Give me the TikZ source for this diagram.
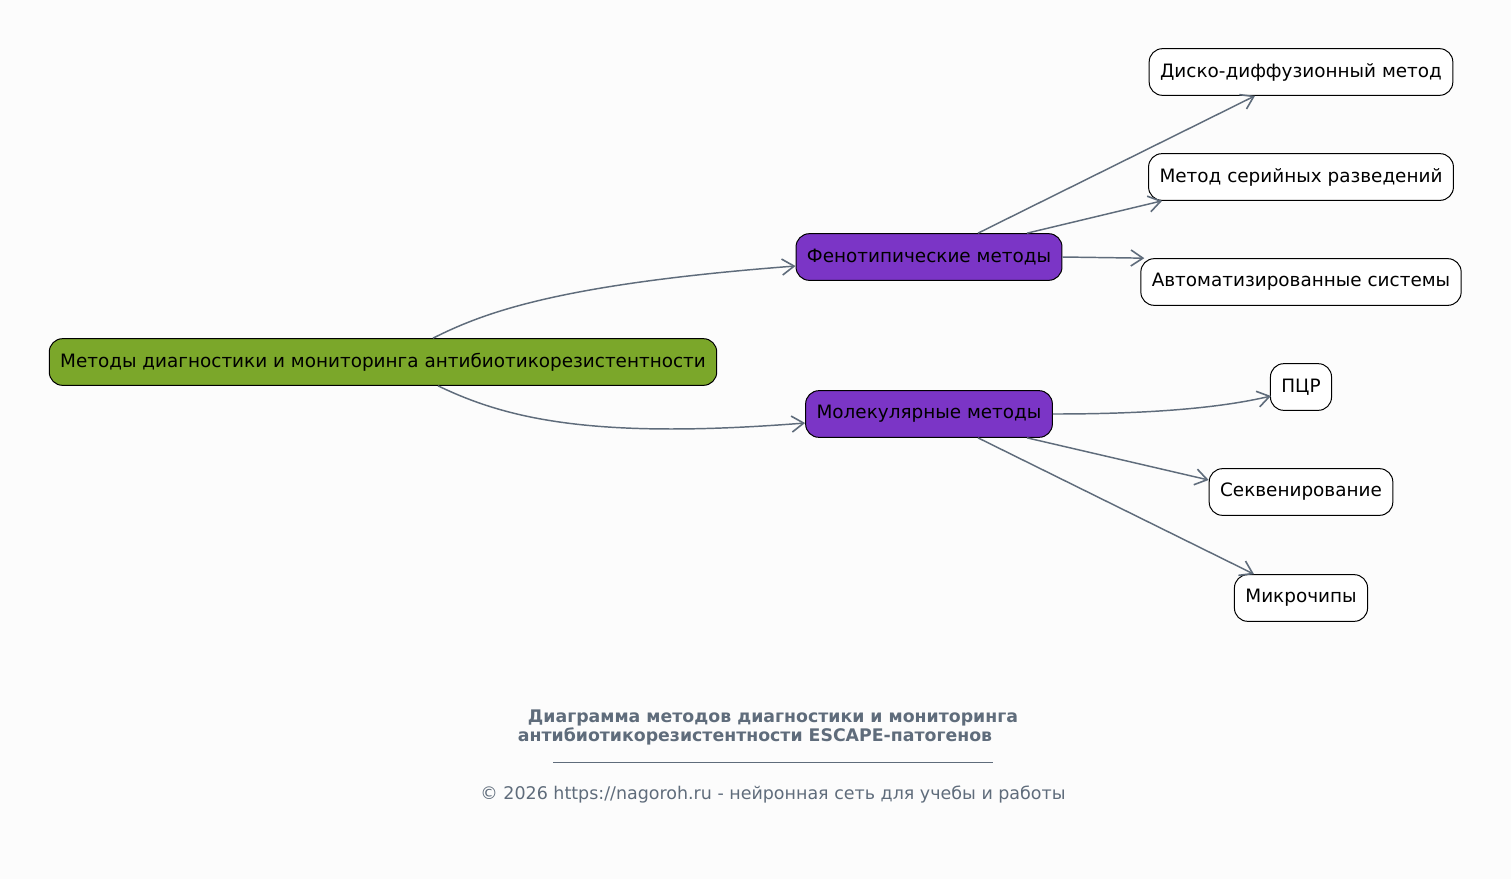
\documentclass[tikz,border=0pt]{standalone}
\usepackage{fontspec}
\setmainfont{DejaVu Sans}
\usepackage{xcolor}
\usepackage{tikz}
\usetikzlibrary{arrows.meta,calc}
\definecolor{rootgreen}{HTML}{7BA72A}
\definecolor{grouppurple}{HTML}{7B35C6}
\definecolor{edgegray}{HTML}{5F6C7B}
\definecolor{bggray}{HTML}{FCFCFC}
\tikzset{
    rootbox/.style = {rectangle, rounded corners=10pt, minimum height=35pt, inner xsep=8.2pt, line width=0.75pt, text centered, draw=black, fill=rootgreen, font=\fontsize{13.8}{16}\selectfont},
    groupbox/.style = {rectangle, rounded corners=10pt, minimum height=35pt, inner xsep=8.2pt, line width=0.75pt, text centered, draw=black, fill=grouppurple, font=\fontsize{13.8}{16}\selectfont},
    leafbox/.style = {rectangle, rounded corners=10pt, minimum height=35pt, inner xsep=8.2pt, line width=0.75pt, text centered, draw=black, fill=white, font=\fontsize{13.8}{16}\selectfont},
    arrow/.style = {edgegray, line width=1.1pt, -{Straight Barb[length=9pt, width=12pt, line width=1.2pt]}},
    caption/.style = {text=edgegray, font=\fontsize{13}{15}\selectfont\bfseries},
    footer/.style = {text=edgegray, font=\fontsize{13.1}{15}\selectfont}
}

\begin{document}
\begin{tikzpicture}[x=0.75pt, y=-0.75pt]
\fill [bggray] (0,0) rectangle (1511,879);
\useasboundingbox (0,0) rectangle (1511,879);

\node (root) [rootbox] at (383,362) {Методы диагностики и мониторинга антибиотикорезистентности};
\node (phen) [groupbox] at (929,257) {Фенотипические методы};
\node (mol) [groupbox] at (929,414) {Молекулярные методы};
\node (disco) [leafbox] at (1301,72) {Диско-диффузионный метод};
\node (serial) [leafbox] at (1301,177) {Метод серийных разведений};
\node (auto) [leafbox] at (1301,282) {Автоматизированные системы};
\node (pcr) [leafbox] at (1301,387) {ПЦР};
\node (seq) [leafbox] at (1301,492) {Секвенирование};
\node (micro) [leafbox] at (1301,598) {Микрочипы};

\node (title1) [caption] at (773,718) {Диаграмма методов диагностики и мониторинга};
\node (title2) [caption] at (755,736) {антибиотикорезистентности ESCAPE-патогенов};
\node (copy) [footer] at (773,795) {© 2026 https://nagoroh.ru - нейронная сеть для учебы и работы};
\draw [edgegray, line width=0.6pt] (553,762) -- (993,762);

\draw [arrow] ($(root.north)+(50,0)$) .. controls (485,312) and (560,284) .. ($(phen.west)+(0,9)$);
\draw [arrow] ($(root.south)+(55,0)$) .. controls (505,418) and (590,440) .. ($(mol.west)+(0,9)$);
\draw [arrow] ($(phen.north)+(49,0)$) -- ($(disco.south)+(-46,0)$);
\draw [arrow] ($(phen.north)+(98,0)$) -- ($(serial.south west)+(14,0)$);
\draw [arrow] (phen.east) -- ($(auto.north west)+(4,0)$);
\draw [arrow] (mol.east) .. controls (1150,414) and (1220,408) .. ($(pcr.west)+(1,9)$);
\draw [arrow] ($(mol.south)+(98,0)$) -- ($(seq.west)+(0,-12)$);
\draw [arrow] ($(mol.south)+(49,0)$) -- ($(micro.north)+(-47,0)$);
\end{tikzpicture}
\end{document}
